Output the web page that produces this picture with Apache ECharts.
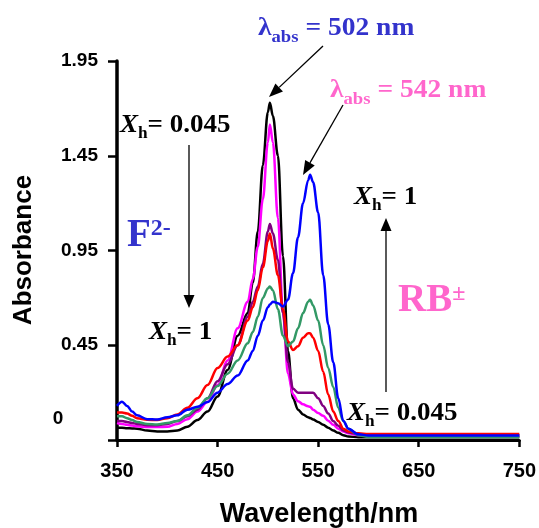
<!DOCTYPE html>
<html><head><meta charset="utf-8">
<script src="https://cdn.jsdelivr.net/npm/echarts/dist/echarts.min.js"></script>
<style>html,body{margin:0;padding:0;background:#fff}#c{width:539px;height:528px}</style>
</head><body><div id="c"></div>
<script>
// ---- data ----
const wavelengths = [350,355,360,365,370,380,390,400,410,420,430,440,450,460,470,480,485,490,495,500,502,505,510,515,520,525,530,535,540,542,545,550,555,560,565,570,575,580,590,600,650,700,750];

const absBlack = [0.015,0.014,0.012,0.011,0.01, 0.0,-0.005,-0.005,0.0,0.02,0.055,0.1,0.18,0.32,0.5,0.62, 0.78,1.05,1.4,1.68,1.73,1.66,1.45,0.92,0.42,0.17,0.11,0.085,0.07,0.066,0.058,0.045,0.03,0.015,0.0,-0.012,-0.025,-0.032, -0.035,-0.035,-0.035,-0.035,-0.035];
const absMagenta = [0.04,0.035,0.03,0.026,0.022, 0.018,0.018,0.02,0.035,0.06,0.1,0.15,0.24,0.37,0.54,0.68, 0.8,0.97,1.22,1.52,1.615,1.52,1.12,0.62,0.3,0.19,0.155,0.138,0.128,0.125,0.11,0.092,0.078,0.052,0.03,0.01,-0.005,-0.015, -0.025,-0.028,-0.028,-0.028,-0.028];
const absPurple = [0.05,0.05,0.045,0.04,0.035, 0.028,0.028,0.035,0.05,0.075,0.11,0.17,0.26,0.35,0.45,0.6, 0.68,0.76,0.88,1.05,1.09,1.04,0.9,0.62,0.36,0.22,0.2,0.2,0.2,0.2,0.2,0.17,0.13,0.09,0.05,0.025,0.0,-0.01, -0.02,-0.025,-0.025,-0.025,-0.025];
const absRed = [0.095,0.095,0.09,0.078,0.065, 0.057,0.055,0.065,0.085,0.12,0.17,0.24,0.33,0.39,0.45,0.58, 0.65,0.74,0.86,1.0,1.04,0.96,0.82,0.64,0.47,0.425,0.445,0.49,0.513,0.513,0.49,0.42,0.31,0.19,0.1,0.05,0.01,-0.005, -0.015,-0.018,-0.018,-0.018,-0.018];
const absGreen = [0.075,0.075,0.065,0.055,0.045, 0.035,0.032,0.04,0.05,0.08,0.12,0.17,0.235,0.3,0.37,0.46, 0.52,0.6,0.7,0.75,0.76,0.74,0.64,0.5,0.445,0.47,0.54,0.62,0.68,0.69,0.66,0.58,0.45,0.33,0.23,0.12,0.05,0.01, -0.025,-0.034,-0.034,-0.034,-0.034];
const absBlue = [0.13,0.152,0.13,0.1,0.08, 0.06,0.058,0.07,0.08,0.11,0.125,0.15,0.2,0.245,0.29,0.37, 0.42,0.5,0.58,0.65,0.665,0.68,0.672,0.655,0.69,0.83,1.02,1.2,1.32,1.35,1.31,1.15,0.82,0.56,0.36,0.17,0.05,0.01, -0.02,-0.026,-0.026,-0.026,-0.026];

const yTickValues = [-0.05, 0.45, 0.95, 1.45, 1.95];
const yTickLabels = ['', '0.45', '0.95', '1.45', '1.95'];
const xTickLabels = ['350', '450', '550', '650', '750'];

const seriesDefs = [
  {name: 'Xh = 0.045', values: absBlack, color: '#000000'},
  {name: 'b', values: absMagenta, color: '#ff00ff'},
  {name: 'c', values: absPurple, color: '#800080'},
  {name: 'd', values: absRed, color: '#ff0000'},
  {name: 'e', values: absGreen, color: '#339966'},
  {name: 'Xh = 1', values: absBlue, color: '#0000ff'}
];

// ---- chart ----
const chart = echarts.init(document.getElementById('c'), null, {renderer: 'canvas'});
const SERIF = '"Liberation Serif", "Times New Roman", serif';
const SANS = '"Liberation Sans", Arial, sans-serif';

function arrow(x1, y1, x2, y2, hl, hw) {
  const a = Math.atan2(y2 - y1, x2 - x1);
  const c = Math.cos(a), s = Math.sin(a);
  const bx = x2 - hl * c, by = y2 - hl * s;
  const px = -s * hw / 2, py = c * hw / 2;
  return [
    {type: 'line', shape: {x1: x1, y1: y1, x2: bx, y2: by}, style: {stroke: '#000', lineWidth: 1.3}, z: 100},
    {type: 'polygon', shape: {points: [[x2, y2], [bx + px, by + py], [bx - px, by - py]]}, style: {fill: '#000'}, z: 100}
  ];
}

function subLabel(x, y, main1, sub, main2, color, fs, sfs, pad, sx) {
  return {
    type: 'text', x: x, y: y, scaleX: sx || 1, z: 100,
    style: {
      text: '{m|' + main1 + '}{s|' + sub + '}{m|' + main2 + '}',
      align: 'left', verticalAlign: 'bottom',
      rich: {
        m: {fontFamily: SERIF, fontWeight: 'bold', fontSize: fs, lineHeight: fs, fill: color, verticalAlign: 'bottom', padding: [0, 0, pad, 0]},
        s: {fontFamily: SERIF, fontWeight: 'bold', fontSize: sfs, lineHeight: sfs, fill: color, verticalAlign: 'bottom'}
      }
    }
  };
}
function xhLabel(x, y, val, sx) {
  return {
    type: 'text', x: x, y: y, scaleX: sx || 1, z: 100,
    style: {
      text: '{x|X}{s|h}{m|= ' + val + '}',
      align: 'left', verticalAlign: 'bottom',
      rich: {
        x: {fontFamily: SERIF, fontWeight: 'bold', fontStyle: 'italic', fontSize: 25, lineHeight: 25, fill: '#000', verticalAlign: 'bottom', padding: [0, 0, 4, 0]},
        m: {fontFamily: SERIF, fontWeight: 'bold', fontSize: 25, lineHeight: 25, fill: '#000', verticalAlign: 'bottom', padding: [0, 0, 4, 0]},
        s: {fontFamily: SERIF, fontWeight: 'bold', fontSize: 16, lineHeight: 16, fill: '#000', verticalAlign: 'bottom'}
      }
    }
  };
}
function supLabel(x, y, main, sup, color, sx) {
  return {
    type: 'text', x: x, y: y, scaleX: sx || 1, z: 100,
    style: {
      text: '{m|' + main + '}{p|' + sup + '}',
      align: 'left', verticalAlign: 'top',
      rich: {
        m: {fontFamily: SERIF, fontWeight: 'bold', fontSize: 39, lineHeight: 39, fill: color, verticalAlign: 'top'},
        p: {fontFamily: SERIF, fontWeight: 'bold', fontSize: 24, lineHeight: 24, fill: color, verticalAlign: 'top', padding: [1, 0, 0, 0]}
      }
    }
  };
}

const graphics = [].concat(
  arrow(323, 46, 269, 97, 14, 11),
  arrow(343, 105, 303, 175, 14, 11),
  arrow(189, 145, 189, 308, 13, 11),
  arrow(386, 392, 386, 218, 13, 11),
  [
    subLabel(258, 46, 'λ', 'abs', ' = 502 nm', '#3333cc', 25, 17, 5, 1.1),
    subLabel(330, 108, 'λ', 'abs', ' = 542 nm', '#ff66cc', 25, 17, 5, 1.1),
    xhLabel(120, 142, '0.045', 1.08),
    xhLabel(149, 349, '1', 1.08),
    xhLabel(354, 214, '1', 1.08),
    xhLabel(347, 430, '0.045', 1.08),
    supLabel(127, 216, 'F', '2-', '#3333cc'),
    supLabel(398, 281, 'RB', '±', '#ff66cc'),
    {type: 'text', x: 58, y: 419, z: 100, style: {text: '0', font: 'bold 19px ' + SANS, fill: '#000', align: 'center', verticalAlign: 'middle'}},
    {type: 'text', x: 319, y: 515, z: 100, style: {text: 'Wavelength/nm', font: 'bold 27px ' + SANS, fill: '#000', align: 'center', verticalAlign: 'middle'}},
    {type: 'text', x: 24, y: 250, rotation: Math.PI / 2, z: 100, style: {text: 'Absorbance', font: 'bold 26px ' + SANS, fill: '#000', align: 'center', verticalAlign: 'middle'}}
  ]
);

const option = {
  animation: false,
  backgroundColor: '#ffffff',
  grid: {left: 117, right: 19, top: 61, bottom: 88, containLabel: false},
  xAxis: {
    type: 'value', min: 350, max: 750, interval: 100,
    axisLine: {onZero: false, lineStyle: {color: '#000', width: 3}},
    axisTick: {show: true, length: 7, inside: false, lineStyle: {color: '#000', width: 2.5}},
    axisLabel: {
      margin: 21, color: '#000', fontFamily: SANS, fontWeight: 'bold', fontSize: 20,
      formatter: function (v) { const i = Math.round((v - 350) / 100); return xTickLabels[i] !== undefined ? xTickLabels[i] : ''; }
    },
    splitLine: {show: false}
  },
  yAxis: {
    type: 'value', min: -0.05, max: 1.95, interval: 0.5,
    axisLine: {show: true, onZero: false, lineStyle: {color: '#000', width: 3.5}},
    axisTick: {show: true, length: 9, inside: false, lineStyle: {color: '#000', width: 2.5}},
    axisLabel: {
      margin: 19, color: '#000', fontFamily: SANS, fontWeight: 'bold', fontSize: 19,
      formatter: function (v) {
        for (let i = 0; i < yTickValues.length; i++) { if (Math.abs(yTickValues[i] - v) < 1e-6) return yTickLabels[i]; }
        return '';
      }
    },
    splitLine: {show: false}
  },
  series: seriesDefs.map(function (d) {
    return {
      name: d.name, type: 'line', showSymbol: false, symbol: 'none',
      smooth: 0.35, smoothMonotone: 'x',
      lineStyle: {color: d.color, width: 2.5},
      itemStyle: {color: d.color},
      data: wavelengths.map(function (w, i) { return [w, d.values[i]]; })
    };
  }),
  graphic: graphics
};
chart.setOption(option);
</script>
</body></html>
